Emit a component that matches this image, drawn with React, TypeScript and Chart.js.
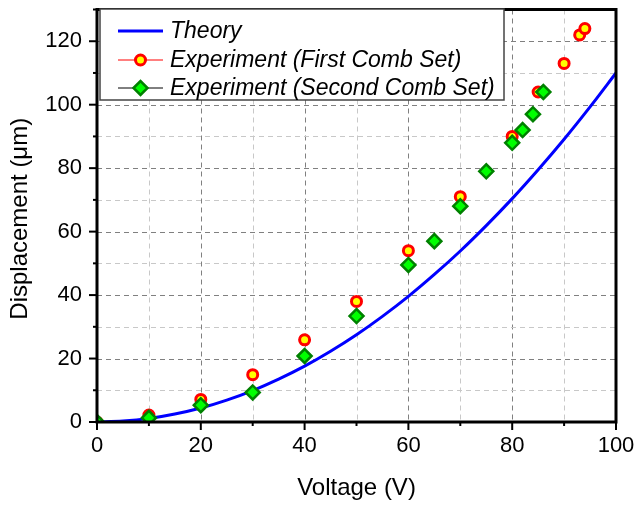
import React, { useEffect, useRef } from "react";
import { Chart, registerables } from "chart.js";

Chart.register(...registerables);

const theoryV = [0, 5, 10, 15, 20, 25, 30, 35, 40, 45, 50, 55, 60, 65, 70, 75, 80, 85, 90, 95, 100];
const theoryD = [0, 0.3, 1.1, 2.5, 4.4, 6.9, 9.9, 13.5, 17.6, 22.3, 27.5, 33.3, 39.6, 46.5, 53.9, 61.9, 70.4, 79.5, 89.1, 99.3, 110];

const exp1V = [0, 10, 20, 30, 40, 50, 60, 70, 80, 85, 90, 93, 94];
const exp1D = [0, 2.2, 7.1, 14.9, 25.9, 38, 54, 71, 90, 104, 113, 122, 124];

const exp2V = [0, 10, 20, 30, 40, 50, 60, 65, 70, 75, 80, 82, 84, 86];
const exp2D = [0, 1.3, 5.3, 9.3, 20.8, 33.4, 49.5, 57, 68, 79, 88, 92, 97, 104];

const legendLabels = ["Theory", "Experiment (First Comb Set)", "Experiment (Second Comb Set)"];
const xTitle = "Voltage (V)";
const yTitle = "Displacement (\u03bcm)";

const FONT = "'Liberation Sans', Arial, sans-serif";

const framePlugin = {
  id: "frame",
  beforeDatasetsDraw(chart: any) {
    const { ctx, chartArea: a, scales } = chart;
    const xs = scales.x;
    const ys = scales.y;
    ctx.save();
    ctx.lineWidth = 1;
    ctx.setLineDash([5, 4]);
    for (let v = 10; v < 100; v += 10) {
      const px = Math.round(xs.getPixelForValue(v)) + 0.5;
      ctx.strokeStyle = v % 20 === 0 ? "#808080" : "#c8c8c8";
      ctx.beginPath();
      ctx.moveTo(px, a.top);
      ctx.lineTo(px, a.bottom);
      ctx.stroke();
    }
    for (let v = 10; v < 130; v += 10) {
      const py = Math.round(ys.getPixelForValue(v)) + 0.5;
      ctx.strokeStyle = v % 20 === 0 ? "#808080" : "#c8c8c8";
      ctx.beginPath();
      ctx.moveTo(a.left, py);
      ctx.lineTo(a.right, py);
      ctx.stroke();
    }
    ctx.restore();
  },
  afterDatasetsDraw(chart: any) {
    const { ctx, chartArea: a, scales } = chart;
    const xs = scales.x;
    const ys = scales.y;
    ctx.save();
    // frame
    ctx.setLineDash([]);
    ctx.strokeStyle = "#000";
    ctx.lineWidth = 3;
    ctx.strokeRect(a.left, a.top, a.right - a.left, a.bottom - a.top);
    // ticks
    ctx.lineWidth = 2;
    for (let v = 0; v <= 100; v += 10) {
      const px = xs.getPixelForValue(v);
      const len = v % 20 === 0 ? 8 : 4;
      ctx.beginPath();
      ctx.moveTo(px, a.bottom);
      ctx.lineTo(px, a.bottom + len);
      ctx.stroke();
    }
    for (let v = 0; v <= 130; v += 10) {
      const py = ys.getPixelForValue(v);
      const len = v % 20 === 0 ? 8 : 4;
      ctx.beginPath();
      ctx.moveTo(a.left, py);
      ctx.lineTo(a.left - len, py);
      ctx.stroke();
    }
    // axis titles
    ctx.fillStyle = "#000";
    ctx.font = `24px ${FONT}`;
    ctx.textAlign = "center";
    ctx.textBaseline = "alphabetic";
    ctx.fillText(xTitle, (a.left + a.right) / 2, 495);
    ctx.save();
    ctx.translate(27, (a.top + a.bottom) / 2 + 3);
    ctx.rotate(-Math.PI / 2);
    ctx.fillText(yTitle, 0, 0);
    ctx.restore();

    // legend
    const bx = 100, by = 9, bw = 404, bh = 91;
    ctx.fillStyle = "#fff";
    ctx.fillRect(bx, by, bw, bh);
    ctx.strokeStyle = "#444";
    ctx.lineWidth = 1.5;
    ctx.strokeRect(bx, by, bw, bh);
    const rows = [31, 60, 88];
    const lx0 = 118, lx1 = 163, mx = 140.5;
    ctx.strokeStyle = "#0000ff";
    ctx.lineWidth = 3;
    ctx.beginPath();
    ctx.moveTo(lx0, rows[0]);
    ctx.lineTo(lx1, rows[0]);
    ctx.stroke();
    ctx.strokeStyle = "#ff0000";
    ctx.lineWidth = 1;
    ctx.beginPath();
    ctx.moveTo(lx0, rows[1]);
    ctx.lineTo(lx1, rows[1]);
    ctx.stroke();
    ctx.beginPath();
    ctx.arc(mx, rows[1], 5, 0, Math.PI * 2);
    ctx.fillStyle = "#ffff00";
    ctx.fill();
    ctx.lineWidth = 3;
    ctx.stroke();
    ctx.strokeStyle = "#000";
    ctx.lineWidth = 1;
    ctx.beginPath();
    ctx.moveTo(lx0, rows[2]);
    ctx.lineTo(lx1, rows[2]);
    ctx.stroke();
    const r = 7;
    ctx.beginPath();
    ctx.moveTo(mx - r, rows[2]);
    ctx.lineTo(mx, rows[2] - r);
    ctx.lineTo(mx + r, rows[2]);
    ctx.lineTo(mx, rows[2] + r);
    ctx.closePath();
    ctx.fillStyle = "#00ff00";
    ctx.fill();
    ctx.strokeStyle = "#008000";
    ctx.lineWidth = 2.5;
    ctx.stroke();
    ctx.fillStyle = "#000";
    ctx.font = `italic 23px ${FONT}`;
    ctx.textAlign = "left";
    ctx.textBaseline = "middle";
    legendLabels.forEach((t, i) => ctx.fillText(t, 170, rows[i] + 1));
    ctx.restore();
  },
};

const zeroPad = (s: any) => {
  s.paddingLeft = 0;
  s.paddingRight = 0;
  s.paddingTop = 0;
  s.paddingBottom = 0;
};

export default function App() {
  const ref = useRef<HTMLCanvasElement | null>(null);
  useEffect(() => {
    document.body.style.margin = "0";
    const canvas = ref.current;
    if (!canvas) return;
    const chart = new Chart(canvas, {
      type: "scatter",
      data: {
        datasets: [
          {
            label: legendLabels[0],
            data: theoryV.map((v, i) => ({ x: v, y: theoryD[i] })),
            showLine: true,
            borderColor: "#0000ff",
            borderWidth: 3,
            pointRadius: 0,
            cubicInterpolationMode: "monotone",
            order: 3,
            clip: 0,
          },
          {
            label: legendLabels[1],
            data: exp1V.map((v, i) => ({ x: v, y: exp1D[i] })),
            showLine: false,
            pointStyle: "circle",
            pointRadius: 5,
            pointBorderWidth: 3,
            pointBorderColor: "#ff0000",
            pointBackgroundColor: "#ffff00",
            order: 2,
            clip: 0,
          },
          {
            label: legendLabels[2],
            data: exp2V.map((v, i) => ({ x: v, y: exp2D[i] })),
            showLine: false,
            pointStyle: "rectRot",
            pointRadius: 7,
            pointBorderWidth: 2.5,
            pointBorderColor: "#008000",
            pointBackgroundColor: "#00ff00",
            order: 1,
            clip: 0,
          },
        ] as any,
      },
      options: {
        animation: false,
        responsive: false,
        devicePixelRatio: 1,
        layout: { padding: { left: 0, right: 21, top: 5, bottom: 0 } },
        plugins: { legend: { display: false }, tooltip: { enabled: false } },
        scales: {
          x: {
            type: "linear",
            min: 0,
            max: 100,
            grid: { display: false, drawTicks: false },
            border: { display: false },
            ticks: {
              stepSize: 20,
              padding: 11,
              color: "#000",
              font: { family: FONT, size: 22 },
              maxRotation: 0,
            },
            afterFit: (s: any) => {
              s.height = 84;
              zeroPad(s);
            },
          },
          y: {
            type: "linear",
            min: 0,
            max: 130,
            grid: { display: false, drawTicks: false },
            border: { display: false },
            ticks: {
              stepSize: 20,
              includeBounds: false,
              padding: 15,
              color: "#000",
              font: { family: FONT, size: 22 },
            },
            afterFit: (s: any) => {
              s.width = 97;
              zeroPad(s);
            },
          },
        },
      } as any,
      plugins: [framePlugin],
    });
    return () => chart.destroy();
  }, []);
  return (
    <div style={{ width: 637, height: 506 }}>
      <canvas ref={ref} width={637} height={506} style={{ display: "block" }} />
    </div>
  );
}
